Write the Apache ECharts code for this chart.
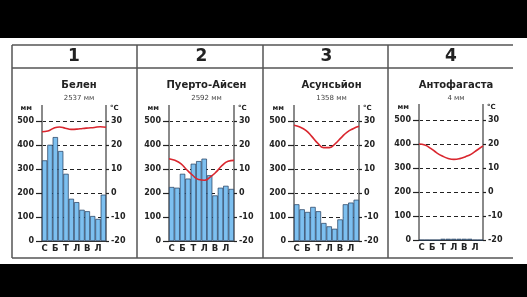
<!DOCTYPE html>
<html>
<head>
<meta charset="utf-8">
<script src="https://cdn.jsdelivr.net/npm/echarts@6/dist/echarts.min.js"></script>
<style>
  html, body { margin: 0; padding: 0; background: #fff; }
  #main { width: 527px; height: 297px; }
</style>
</head>
<body>
<div id="main"></div>
<script>
// données climatiques
var months = ['С', '', 'Б', '', 'Т', '', 'Л', '', 'В', '', 'Л', ''];
var headers = ['1', '2', '3', '4'];
var cities = ['Белен', 'Пуерто-Айсен', 'Асунсьйон', 'Антофагаста'];
var totals = ['2537 мм', '2592 мм', '1358 мм', '4 мм'];

var precipBelen = [336, 401, 433, 375, 280, 176, 162, 130, 124, 104, 92, 193];
var precipAysen = [225, 222, 280, 260, 322, 333, 343, 274, 190, 222, 230, 217];
var precipAsuncion = [153, 132, 121, 142, 124, 75, 61, 51, 90, 153, 160, 172];
var precipAntofagasta = [0, 0, 0, 0, 5, 5, 5, 5, 5, 5, 0, 0];

var tempBelen = [25.5, 25.8, 27.0, 27.5, 27.0, 26.5, 26.6, 26.9, 27.1, 27.3, 27.6, 27.4];
var tempAysen = [14.3, 13.6, 12.2, 9.7, 7.4, 5.6, 5.3, 6.7, 8.8, 11.5, 13.2, 13.6];
var tempAsuncion = [28.2, 27.5, 26.1, 23.6, 20.8, 18.9, 18.9, 20.6, 23.1, 25.4, 26.8, 27.8];
var tempAntofagasta = [20.0, 19.6, 18.2, 16.4, 15.0, 14.0, 13.6, 13.9, 14.7, 15.8, 17.5, 19.2];

var mmTicks = { min: 0, max: 500, interval: 100 };
var degTicks = { min: -20, max: 30, interval: 10 };

var precip = [precipBelen, precipAysen, precipAsuncion, precipAntofagasta];
var temps = [tempBelen, tempAysen, tempAsuncion, tempAntofagasta];

// mise en page
var grids = [
  { left: 42, top: 121, width: 64, height: 120 },
  { left: 169, top: 121, width: 65, height: 120 },
  { left: 294, top: 121, width: 65, height: 120 },
  { left: 419, top: 120, width: 64, height: 120 }
];
var colX = [12, 137, 263, 388, 513];

var font = 'DejaVu Sans';
var dark = '#222';
var axisGrey = '#8a8a8a';

var myChart = echarts.init(document.getElementById('main'));

var xAxes = [], yAxes = [], series = [], titles = [], graphics = [];

// bandes noires + tableau
graphics.push({ type: 'rect', shape: { x: 0, y: 0, width: 527, height: 38 }, style: { fill: '#000' } });
graphics.push({ type: 'rect', shape: { x: 0, y: 264, width: 527, height: 33 }, style: { fill: '#000' } });
[45, 68, 258].forEach(function(y) {
  graphics.push({ type: 'line', shape: { x1: colX[0], y1: y, x2: colX[4], y2: y }, style: { stroke: '#555', lineWidth: 1.5 } });
});
for (var c = 0; c < 4; c++) {
  graphics.push({ type: 'line', shape: { x1: colX[c], y1: 45, x2: colX[c], y2: 258 }, style: { stroke: '#555', lineWidth: 1.5 } });
}

for (var i = 0; i < 4; i++) {
  var g = grids[i];
  var cx = g.left + g.width / 2;

  graphics.push({
    type: 'text', x: cx, y: 57,
    style: { text: headers[i], font: 'bold 17px ' + font, fill: dark, align: 'center', verticalAlign: 'middle' }
  });
  // prolongement des axes verticaux au-dessus de 500
  graphics.push({ type: 'line', shape: { x1: g.left, y1: g.top - 16, x2: g.left, y2: g.top }, style: { stroke: axisGrey, lineWidth: 2 } });
  graphics.push({ type: 'line', shape: { x1: g.left + g.width, y1: g.top - 16, x2: g.left + g.width, y2: g.top }, style: { stroke: axisGrey, lineWidth: 2 } });

  titles.push({
    text: cities[i],
    subtext: totals[i],
    left: cx,
    top: 75,
    textAlign: 'center',
    itemGap: 5,
    textStyle: { fontFamily: font, fontSize: 10, fontWeight: 'bold', color: dark },
    subtextStyle: { fontFamily: font, fontSize: 7, color: '#444' }
  });

  xAxes.push({
    type: 'category', gridIndex: i, data: months,
    axisLine: { lineStyle: { color: '#333', width: 1 } },
    axisTick: { show: false },
    axisLabel: { interval: 0, fontFamily: font, fontSize: 8.5, fontWeight: 'bold', color: dark, margin: 3 }
  });
  xAxes.push({
    type: 'category', gridIndex: i, data: months, boundaryGap: false, show: false
  });

  yAxes.push({
    type: 'value', gridIndex: i, position: 'left',
    min: mmTicks.min, max: mmTicks.max, interval: mmTicks.interval,
    name: 'мм', nameLocation: 'end', nameGap: 9,
    nameTextStyle: { fontFamily: font, fontSize: 7, fontWeight: 'bold', color: dark, align: 'right', padding: [0, 10, 0, 0] },
    axisLine: { show: true, lineStyle: { color: axisGrey, width: 2 } },
    axisTick: { show: true, length: 6, lineStyle: { color: dark, width: 1.2 } },
    axisLabel: { fontFamily: font, fontSize: 8, fontWeight: 'bold', color: dark, margin: 8 },
    splitLine: { show: true, lineStyle: { color: dark, type: [4, 3], width: 1.2 } }
  });
  yAxes.push({
    type: 'value', gridIndex: i, position: 'right',
    min: degTicks.min, max: degTicks.max, interval: degTicks.interval,
    name: '°C', nameLocation: 'end', nameGap: 9,
    nameTextStyle: { fontFamily: font, fontSize: 7, fontWeight: 'bold', color: dark, align: 'left', padding: [0, 0, 0, 4] },
    axisLine: { show: true, lineStyle: { color: axisGrey, width: 2 } },
    axisTick: { show: true, length: 3, lineStyle: { color: dark, width: 1.2 } },
    axisLabel: { fontFamily: font, fontSize: 8, fontWeight: 'bold', color: dark, margin: 5 },
    splitLine: { show: false }
  });

  series.push({
    type: 'bar', xAxisIndex: 2 * i, yAxisIndex: 2 * i,
    data: precip[i], barCategoryGap: 0,
    itemStyle: { color: '#7dc0f0', borderColor: '#1f3a5a', borderWidth: 0.7 },
    silent: true
  });
  series.push({
    type: 'line', xAxisIndex: 2 * i + 1, yAxisIndex: 2 * i + 1,
    data: temps[i], smooth: true, showSymbol: false,
    lineStyle: { color: '#d9262e', width: 1.6 },
    silent: true, z: 5
  });
}

var option = {
  animation: false,
  backgroundColor: '#fff',
  title: titles,
  grid: grids,
  xAxis: xAxes,
  yAxis: yAxes,
  series: series,
  graphic: graphics
};

myChart.setOption(option);
</script>
</body>
</html>
